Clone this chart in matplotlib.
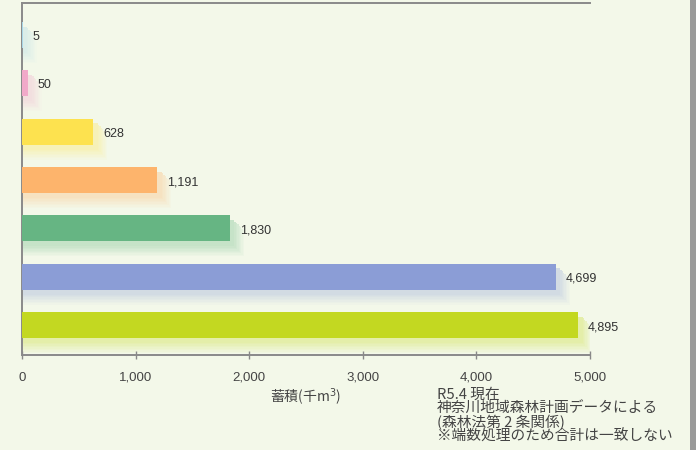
import numpy as np
import matplotlib.pyplot as plt
from matplotlib.patches import Rectangle
import matplotlib.colors as mcolors

plt.rcParams['font.family'] = ['Noto Sans CJK JP', 'DejaVu Sans']
num_font = ['Liberation Sans', 'DejaVu Sans']

# データ (千m3)
values = [5, 50, 628, 1191, 1830, 4699, 4895]
value_labels = ['5', '50', '628', '1,191', '1,830', '4,699', '4,895']
colors = ['#a9d6e6', '#f1a9c9', '#fde24f', '#fdb46c', '#66b583', '#8b9dd6', '#c3d821']
xticks = [0, 1000, 2000, 3000, 4000, 5000]
xtick_labels = ['0', '1,000', '2,000', '3,000', '4,000', '5,000']
notes = ['R5.4 現在', '神奈川地域森林計画データによる', '(森林法第 2 条関係)', '※端数処理のため合計は一致しない']

bg = '#f3f8e9'
fig = plt.figure(figsize=(6.96, 4.5), dpi=100, facecolor=bg)
ax = fig.add_axes([22 / 696, 1 - 355 / 450, 568 / 696, 352 / 450])
ax.set_facecolor(bg)

ypos = np.arange(len(values))
bh = 0.54
bg_rgb = np.array(mcolors.to_rgb(bg))
for y, v, c in zip(ypos, values, colors):
    rgb = np.array(mcolors.to_rgb(c))
    # 影 (下側にぼかし)
    n = 8
    for k in range(n):
        a = 0.32 * (1 - k / n)
        sh = rgb * a + bg_rgb * (1 - a)
        ax.add_patch(Rectangle((0, y - bh / 2 + 0.1 + k * 0.03), v + 40 + k * 12, bh,
                               facecolor=sh, edgecolor='none', zorder=2 - k * 0.1))
    ax.barh(y, v, height=bh, color=c, zorder=3)
    ax.annotate(value_labels[y], (v, y), xytext=(7, -1.5), textcoords='offset points',
                ha='left', va='center', fontsize=9, color='#333333', zorder=4,
                family=num_font)

ax.set_xlim(0, 5000)
ax.set_ylim(6.62, -0.66)
ax.set_xticks(xticks)
ax.set_xticklabels(xtick_labels, fontsize=9.5, color='#444444', family=num_font)
ax.set_yticks([])
ax.tick_params(axis='x', direction='inout', length=6, width=1, color='#888888', pad=9)
ax.set_xlabel('蓄積(千m$^{3}$)', fontsize=10, color='#444444', labelpad=2)

for s in ['left', 'bottom', 'top']:
    ax.spines[s].set_color('#8a8a8a')
    ax.spines[s].set_linewidth(1.4)
ax.spines['right'].set_visible(False)

fig.text(437 / 696, 1 - 388 / 450, '\n'.join(notes), ha='left', va='top',
         fontsize=10.6, color='#444444', linespacing=0.96)

# 右端の枠
fig.patches.append(Rectangle((690 / 696, 0), 6 / 696, 1, transform=fig.transFigure,
                             facecolor='#9a9a9a', edgecolor='none'))

fig.savefig('out.png', dpi=100, facecolor=bg)
